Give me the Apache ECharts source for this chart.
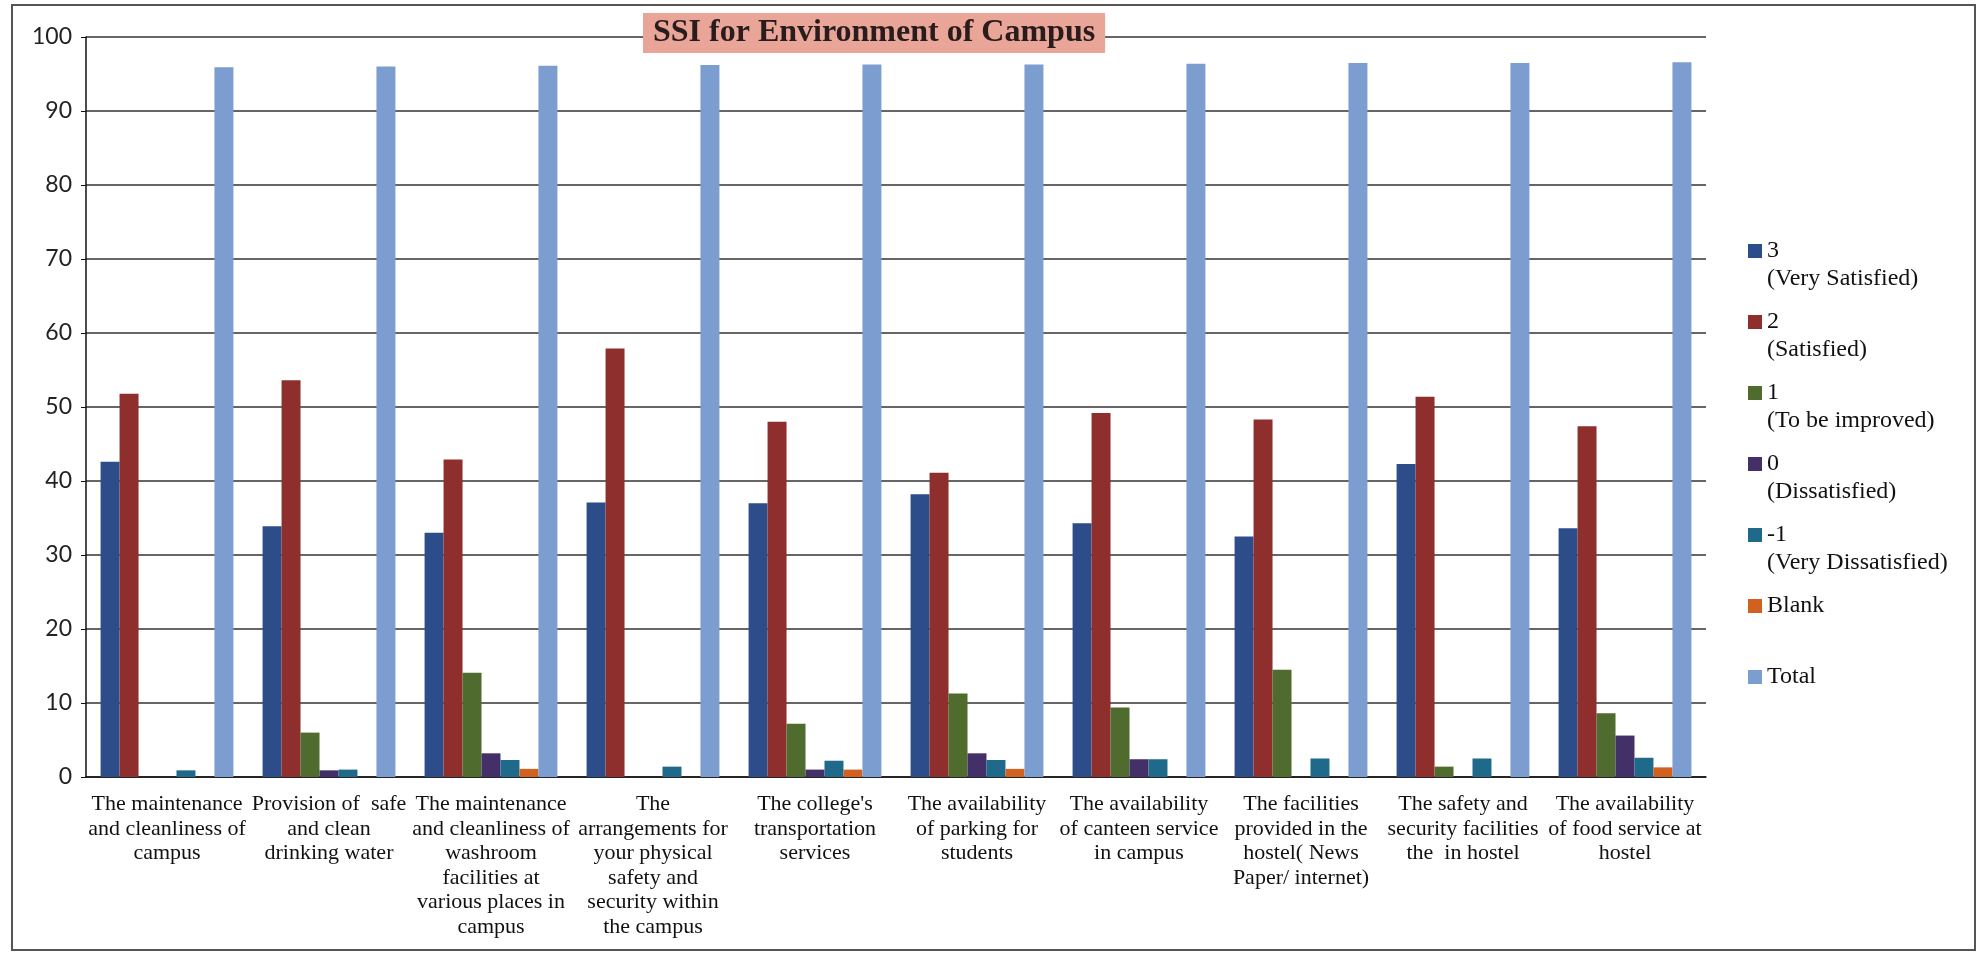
<!DOCTYPE html>
<html>
<head>
<meta charset="utf-8">
<title>SSI for Environment of Campus</title>
<script src="https://cdn.jsdelivr.net/npm/echarts/dist/echarts.min.js"></script>
<style>
  html, body { margin: 0; padding: 0; background: #fff; }
  #chart { width: 1981px; height: 954px; }
</style>
</head>
<body>
<div id="chart"></div>
<script>
// categories (x-axis labels, line breaks as in the original)
const categories = [
  'The maintenance\nand cleanliness of\ncampus',
  'Provision of  safe\nand clean\ndrinking water',
  'The maintenance\nand cleanliness of\nwashroom\nfacilities at\nvarious places in\ncampus',
  'The\narrangements for\nyour physical\nsafety and\nsecurity within\nthe campus',
  "The college's\ntransportation\nservices",
  'The availability\nof parking for\nstudents',
  'The availability\nof canteen service\nin campus',
  'The facilities\nprovided in the\nhostel( News\nPaper/ internet)',
  'The safety and\nsecurity facilities\nthe  in hostel',
  'The availability\nof food service at\nhostel'
];

// values (percent of respondents)
const verySatisfied    = [42.6, 33.9, 33.0, 37.1, 37.0, 38.2, 34.3, 32.5, 42.3, 33.6];
const satisfied        = [51.8, 53.6, 42.9, 57.9, 48.0, 41.1, 49.2, 48.3, 51.4, 47.4];
const toBeImproved     = [0, 6.0, 14.1, 0, 7.2, 11.3, 9.4, 14.5, 1.4, 8.6];
const dissatisfied     = [0, 0.9, 3.2, 0, 1.0, 3.2, 2.4, 0, 0, 5.6];
const veryDissatisfied = [0.9, 1.0, 2.3, 1.4, 2.2, 2.3, 2.4, 2.5, 2.5, 2.6];
const blank            = [0, 0, 1.1, 0, 1.0, 1.1, 0, 0, 0, 1.3];
const total            = [95.9, 96.0, 96.1, 96.2, 96.3, 96.3, 96.4, 96.5, 96.5, 96.6];

// y-axis ticks
const yMin = 0;
const yMax = 100;
const yStep = 10;

// legend text per series
const legendText = {
  '3': '3\n(Very Satisfied)',
  '2': '2\n(Satisfied)',
  '1': '1\n(To be improved)',
  '0': '0\n(Dissatisfied)',
  '-1': '-1\n(Very Dissatisfied)',
  'Blank': 'Blank\n',
  'Total': 'Total\n'
};

const colors = ['#2C4D89', '#8E2F2E', '#4F6B2E', '#433068', '#1F6A8A', '#D2601E', '#7C9DD0'];

// square marker sitting on the first text line of a two-line legend item
const legendIcon = 'path://M0,7h14v14h-14z M0,0h0.05v0.05h-0.05z M0,55.95h0.05v0.05h-0.05z';

const chart = echarts.init(document.getElementById('chart'));

const seriesData = [
  ['3', verySatisfied],
  ['2', satisfied],
  ['1', toBeImproved],
  ['0', dissatisfied],
  ['-1', veryDissatisfied],
  ['Blank', blank],
  ['Total', total]
];

chart.setOption({
  animation: false,
  backgroundColor: '#fff',
  color: colors,
  title: {
    text: 'SSI for Environment of Campus',
    left: 643,
    top: 13,
    padding: [4, 10, 4, 10],
    backgroundColor: '#E8A598',
    textStyle: {
      fontFamily: 'Liberation Serif',
      fontWeight: 'bold',
      fontSize: 32,
      color: '#2a1c1c'
    }
  },
  graphic: [{
    type: 'rect',
    shape: { x: 12, y: 5, width: 1963, height: 945 },
    style: { fill: 'none', stroke: '#555', lineWidth: 2 },
    silent: true
  }],
  legend: {
    orient: 'vertical',
    left: 1743,
    top: 232,
    itemGap: 15,
    itemWidth: 14,
    itemHeight: 56,
    icon: legendIcon,
    formatter: name => legendText[name],
    textStyle: {
      fontFamily: 'Liberation Serif',
      fontSize: 24,
      lineHeight: 28,
      color: '#111'
    }
  },
  grid: {
    left: 86,
    right: 275,
    top: 37,
    bottom: 177,
    containLabel: false
  },
  xAxis: {
    type: 'category',
    data: categories,
    axisLine: { lineStyle: { color: '#111', width: 1.5 } },
    axisTick: { length: 7, lineStyle: { color: '#111', width: 1.5 } },
    axisLabel: {
      interval: 0,
      margin: 15,
      fontFamily: 'Liberation Serif',
      fontSize: 22,
      lineHeight: 24.5,
      color: '#111'
    }
  },
  yAxis: {
    type: 'value',
    min: yMin,
    max: yMax,
    interval: yStep,
    axisLine: { show: true, lineStyle: { color: '#111', width: 1.5 } },
    axisTick: { show: true, length: 5, lineStyle: { color: '#111' } },
    axisLabel: {
      margin: 14,
      fontFamily: 'Lato',
      fontSize: 23,
      color: '#222'
    },
    splitLine: { lineStyle: { color: '#333', width: 1.5 } }
  },
  series: seriesData.map(([name, values]) => ({
    name,
    type: 'bar',
    data: values,
    barGap: '0%',
    barCategoryGap: '18%'
  }))
});
</script>
</body>
</html>
